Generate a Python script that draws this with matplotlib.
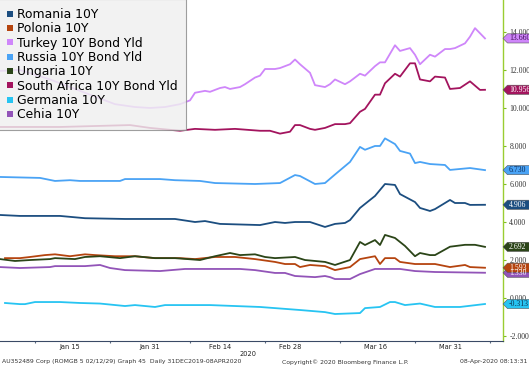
import matplotlib
matplotlib.use('Agg')
import matplotlib.pyplot as plt
import matplotlib.dates as mdates
from matplotlib.lines import Line2D
from matplotlib.patches import Polygon
import pandas as pd

# ---------------- data ----------------
romania_dates = ['01-01','01-05','01-13','01-18','01-26','02-05','02-09','02-11','02-14','02-22','02-25','02-27','02-29',
                 '03-03','03-06','03-08','03-10','03-11','03-13','03-16','03-18','03-20','03-21','03-24','03-25','03-27',
                 '03-28','03-30','03-31','04-01','04-03','04-04','04-07']
romania_vals = [4.37,4.32,4.32,4.20,4.16,4.16,4.00,4.05,3.90,3.84,4.00,3.95,4.00,
                4.00,3.74,3.90,3.95,4.10,4.74,5.37,6.00,5.95,5.47,5.05,4.74,4.58,
                4.68,5.00,5.16,5.00,5.00,4.90,4.906]

polonia_dates = ['01-02','01-05','01-07','01-10','01-12','01-15','01-18','01-20','01-24','01-28',
                 '02-01','02-06','02-09','02-13','02-17','02-21','02-25','02-27','02-29',
                 '03-01','03-03','03-06','03-08','03-11','03-13','03-16','03-17','03-18','03-20','03-21','03-24','03-28','03-31',
                 '04-03','04-04','04-07']
polonia_vals = [2.10,2.10,2.16,2.26,2.30,2.20,2.30,2.26,2.20,2.20,
                2.10,2.10,2.05,2.16,2.16,2.05,1.90,1.79,1.79,
                1.63,1.74,1.68,1.47,1.63,2.05,2.20,1.79,2.10,2.10,1.90,1.79,1.79,1.63,
                1.74,1.63,1.593]

turkey_dates = ['01-01','01-05','01-11','01-18','01-24','01-28','01-31',
                '02-03','02-06','02-08','02-09','02-11','02-12','02-14','02-15','02-16','02-18','02-19','02-21','02-22',
                '02-23','02-25','02-26','02-28','02-29',
                '03-01','03-03','03-04','03-06','03-07','03-08','03-10','03-11','03-13','03-14','03-16','03-17','03-18',
                '03-20','03-21','03-23','03-24','03-25','03-27','03-28','03-30','03-31',
                '04-01','04-03','04-04','04-05','04-07']
turkey_vals = [11.95,12.0,11.5,10.8,10.2,10.05,10.0,
               10.05,10.2,10.4,10.8,10.9,10.85,11.05,11.1,11.0,11.1,11.25,11.6,11.7,
               12.05,12.05,12.1,12.3,12.55,
               12.3,11.85,11.2,11.1,11.25,11.5,11.25,11.4,11.8,11.7,12.2,12.4,12.4,
               13.3,13.0,13.15,12.8,12.3,12.8,12.7,13.1,13.1,
               13.15,13.4,13.75,14.2,13.66]

russia_dates = ['01-01','01-09','01-12','01-15','01-17','01-25','01-26',
                '02-02','02-05','02-10','02-13','02-21','02-26','02-29',
                '03-01','03-04','03-06','03-08','03-11','03-13','03-14','03-16','03-17','03-18','03-20','03-21',
                '03-23','03-24','03-25','03-27','03-30','03-31',
                '04-04','04-07']
russia_vals = [6.37,6.32,6.16,6.20,6.16,6.16,6.26,
               6.26,6.20,6.16,6.05,6.00,6.05,6.47,
               6.42,6.00,6.05,6.50,7.16,7.95,7.80,8.00,8.00,8.40,8.10,7.74,
               7.60,7.10,7.16,7.05,7.00,6.74,
               6.84,6.73]

ungaria_dates = ['01-01','01-04','01-07','01-11','01-12','01-16','01-18','01-21','01-25','01-28',
                 '02-01','02-05','02-10','02-13','02-16','02-18','02-21','02-23','02-25','02-29',
                 '03-02','03-06','03-08','03-11','03-13','03-14','03-16','03-17','03-18','03-20','03-22','03-24',
                 '03-25','03-27','03-28','03-31',
                 '04-03','04-05','04-07']
ungaria_vals = [2.05,1.95,2.00,2.05,2.10,2.05,2.16,2.20,2.10,2.20,
                2.10,2.10,2.00,2.20,2.37,2.26,2.30,2.16,2.10,2.16,
                2.00,1.90,1.74,2.00,2.95,2.79,3.05,2.79,3.32,3.16,2.74,2.20,
                2.37,2.26,2.26,2.70,
                2.80,2.80,2.692]

safrica_dates = ['01-01','01-13','01-27','01-31',
                 '02-06','02-09','02-13','02-17','02-22','02-24','02-26','02-28','02-29',
                 '03-01','03-03','03-04','03-06','03-08','03-10','03-11','03-13','03-14','03-16','03-17','03-18',
                 '03-20','03-21','03-23','03-24','03-25','03-27','03-28','03-30','03-31',
                 '04-02','04-04','04-06','04-07']
safrica_vals = [9.00,9.00,9.10,8.95,
                8.80,8.90,8.85,8.90,8.80,8.80,8.65,8.75,9.10,
                9.10,8.90,8.85,8.95,9.15,9.15,9.20,9.80,9.95,10.70,10.70,11.30,
                11.80,11.65,12.35,12.35,11.50,11.40,11.65,11.60,11.00,
                11.05,11.40,10.95,10.956]

germania_dates = ['01-02','01-05','01-06','01-08','01-13','01-17','01-21','01-26','01-28',
                  '02-01','02-03','02-12','02-22','02-25',
                  '03-01','03-06','03-08','03-13','03-14','03-17','03-19','03-20','03-22','03-25','03-28',
                  '04-02','04-07']
germania_vals = [-0.26,-0.32,-0.32,-0.21,-0.21,-0.26,-0.29,-0.42,-0.37,
                 -0.47,-0.37,-0.37,-0.47,-0.53,
                 -0.63,-0.74,-0.84,-0.79,-0.53,-0.47,-0.21,-0.21,-0.37,-0.29,-0.47,
                 -0.47,-0.313]

cehia_dates = ['01-01','01-05','01-11','01-12','01-18','01-21','01-23','01-26',
               '02-02','02-07','02-11','02-18','02-21','02-25','02-27','02-29',
               '03-04','03-06','03-07','03-08','03-11','03-13','03-16','03-21','03-24','03-28',
               '04-07']
cehia_vals = [1.63,1.58,1.63,1.68,1.68,1.74,1.58,1.47,
              1.42,1.53,1.53,1.53,1.47,1.32,1.32,1.16,
              1.10,1.16,1.10,1.00,1.00,1.26,1.53,1.53,1.42,1.37,
              1.33]

series_names = ['Romania 10Y', 'Polonia 10Y', 'Turkey 10Y Bond Yld', 'Russia 10Y Bond Yld',
                'Ungaria 10Y', 'South Africa 10Y Bond Yld', 'Germania 10Y', 'Cehia 10Y']
series_colors = ['#1c4e80', '#b5440f', '#cf86fa', '#4aa3f5', '#2b4518', '#a3145e', '#27c4f2', '#9254b8']
tag_text_colors = ['white', 'white', '#3d0c55', '#0c2a55', 'white', 'white', '#0c3350', 'white']

series_dates = [romania_dates, polonia_dates, turkey_dates, russia_dates,
                ungaria_dates, safrica_dates, germania_dates, cehia_dates]
series_vals = [romania_vals, polonia_vals, turkey_vals, russia_vals,
               ungaria_vals, safrica_vals, germania_vals, cehia_vals]

y_ticks = [-2, 0, 2, 4, 6, 8, 10, 12, 14]
x_label_dates = ['01-15', '01-31', '02-14', '02-28', '03-16', '03-31']
x_label_text = ['Jan 15', 'Jan 31', 'Feb 14', 'Feb 28', 'Mar 16', 'Mar 31']
x_sep_dates = ['01-08', '01-23', '02-08', '02-23', '03-09', '03-24', '04-08']

footer_left = 'AU352489 Corp (ROMGB 5 02/12/29) Graph 45  Daily 31DEC2019-08APR2020'
footer_mid = 'Copyright\u00a9 2020 Bloomberg Finance L.P.'
footer_right = '08-Apr-2020 08:13:31'


def to_dt(lst):
    return pd.to_datetime(['2020-' + s for s in lst])


# ---------------- figure ----------------
W, H = 529, 367
fig = plt.figure(figsize=(W / 100, H / 100), dpi=100)
fig.patch.set_facecolor('white')
ax_right_px, ax_bottom_px = 503, 341
ax = fig.add_axes([0, (H - ax_bottom_px) / H, ax_right_px / W, ax_bottom_px / H])
ax.set_facecolor('white')

for name, c, dts, vals in zip(series_names, series_colors, series_dates, series_vals):
    ax.plot(to_dt(dts), vals, color=c, lw=1.3, solid_joinstyle='round')

x0 = mdates.date2num(pd.Timestamp('2020-01-01'))
ax.set_xlim(x0, x0 + 100.6)
ax.set_ylim(-2.26, 15.68)

# spines
for s in ['top', 'left']:
    ax.spines[s].set_visible(False)
ax.spines['right'].set_color('#9acd32')
ax.spines['right'].set_linewidth(1.0)
ax.spines['bottom'].set_color('#3a4a66')
ax.spines['bottom'].set_linewidth(0.8)

# y axis on right
ax.yaxis.tick_right()
ax.set_yticks(y_ticks)
ax.set_yticklabels([f'{v:.3f}' for v in y_ticks], family='Liberation Serif', fontsize=5.6, color='#333333')
ax.tick_params(axis='y', which='major', direction='out', length=2.5, width=0.8, color='#7fbf1f', pad=2)

# x axis
ax.set_xticks(to_dt(x_label_dates))
ax.set_xticklabels(x_label_text, fontsize=4.8, color='#222222')
ax.tick_params(axis='x', which='major', length=0, pad=2.5)
ax.set_xticks(to_dt(x_sep_dates), minor=True)
ax.tick_params(axis='x', which='minor', length=1.5, width=0.8, color='#5a6a80', direction='out')

# legend
handles = [Line2D([], [], marker='s', linestyle='none', markersize=5, color=c, markeredgewidth=0)
           for c in series_colors]
leg = ax.legend(handles, series_names, loc='upper left', bbox_to_anchor=(-0.004, 1.002), borderaxespad=0,
                frameon=True, fancybox=False, framealpha=0.82, facecolor='#f0f0f0',
                edgecolor='#8a8a8a', handlelength=0.6, handletextpad=0.25, labelspacing=0.11,
                borderpad=0.7, prop={'family': 'DejaVu Sans', 'size': 8.9})
leg.get_frame().set_linewidth(0.8)

# value tags on right axis
def add_tag(v, color, tcolor):
    yd = ax.transData.transform((x0, v))[1]
    hh = 4.6
    pts = [(503, yd), (507.5, yd + hh), (W + 2, yd + hh), (W + 2, yd - hh), (507.5, yd - hh)]
    pts = [(px / W, py / H) for px, py in pts]
    poly = Polygon(pts, closed=True, transform=fig.transFigure, facecolor=color,
                   edgecolor='#555555', linewidth=0.4, zorder=5)
    fig.add_artist(poly)
    fig.text(509 / W, yd / H, f'{v:.3f}', ha='left', va='center', fontsize=5.6,
             family='Liberation Serif', color=tcolor, zorder=6)

order = [7, 0, 1, 2, 3, 4, 5, 6]  # Cehia drawn first (underneath Polonia)
for i in order:
    add_tag(series_vals[i][-1], series_colors[i], tag_text_colors[i])

# bottom texts
fig.text(248 / W, 1 - 354 / H, '2020', ha='center', va='center', fontsize=4.8, color='#222222')
fig.text(2 / W, 1 - 362 / H, footer_left, ha='left', va='center', fontsize=4.4, color='#333333')
fig.text(282 / W, 1 - 362 / H, footer_mid, ha='left', va='center', fontsize=4.4, color='#333333')
fig.text(527 / W, 1 - 362 / H, footer_right, ha='right', va='center', fontsize=4.4, color='#333333')

fig.savefig('out.png', dpi=100)
